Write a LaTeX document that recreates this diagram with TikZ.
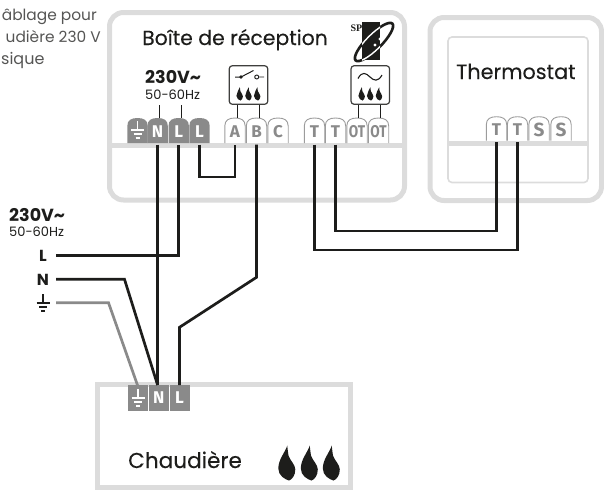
\documentclass[tikz,border=0pt]{standalone}
\usepackage{fontspec}
\setmainfont{Poppins}
\newfontfamily\logofont{Liberation Serif}
\newfontfamily\tabfont{Fira Sans}
\newfontfamily\titlefont[FakeBold=0.25]{Poppins}
\definecolor{boxgray}{HTML}{DCDCDC}
\definecolor{termgray}{HTML}{8A8A8A}
\definecolor{ink}{HTML}{1D1D1B}
\newcommand{\fsz}[1]{\fontsize{#1}{#1}\selectfont}
% terminal: name, centre x, top y, bottom y, fill/draw style, label style, label
\newcommand{\termtab}[7]{%
  \path[#5] (#2-10.2,#4) -- (#2-10.2,#3+8) .. controls (#2-10.2,#3+2) and (#2-6,#3) .. (#2,#3)
     .. controls (#2+6,#3) and (#2+10.2,#3+2) .. (#2+10.2,#3+8) -- (#2+10.2,#4);
  \node[termlabel,#6,minimum height=#4-#3] (#1) at (#2,{(#3+#4)/2+1.5}) {#7};}
\newcommand{\earth}[3]{% centre x, top y, colour
  \draw[#3,line width=1.1] (#1,#2) -- (#1,#2+9)
    (#1-6.5,#2+9) -- (#1+6.5,#2+9)
    (#1-4,#2+13) -- (#1+4,#2+13)
    (#1-2,#2+17) -- (#1+2,#2+17);}
\tikzset{
  x=1pt,y=-1pt,
  outerbox/.style={draw=boxgray,line width=5,rounded corners=14},
  band/.style={draw=boxgray,line width=5},
  wire/.style={draw=ink,line width=2.7,line join=miter},
  earthwire/.style={draw=termgray,line width=2.7,line join=miter},
  thin lead/.style={draw=ink,line width=1},
  symbox/.style={draw=ink!85,line width=1.2,rounded corners=3,minimum width=38.5,minimum height=38.5,inner sep=0},
  tabdark/.style={fill=termgray},
  tablight/.style={draw=termgray!85,line width=0.9},
  termlabel/.style={inner sep=0,minimum width=20.4,font=\tabfont\fsz{17}\bfseries},
  labwhite/.style={text=white},
  labgray/.style={text=termgray},
  title/.style={anchor=base west,inner sep=0,text=ink},
  flame/.pic={\fill[ink] (-1.7,-35) .. controls (-4,-28) and (-10.7,-21) .. (-10.7,-12)
      .. controls (-10.7,-5) and (-4,-1) .. (0,0) .. controls (3,-1) and (6.3,-5) .. (6.3,-11)
      .. controls (6.3,-16) and (1,-20) .. (-0.5,-25) .. controls (-1,-28) and (-1.5,-32) .. cycle;},
}
\begin{document}
\begin{tikzpicture}
\useasboundingbox (0,0) rectangle (604,491);
\clip (0,0) rectangle (604,491);
% boxes
\draw[outerbox] (109.5,12.5) rectangle (404.5,200);
\draw[band] (107,145.5) -- (407,145.5);
\draw[outerbox] (430,17.5) rectangle (601.5,200.5);
\draw[draw=boxgray,line width=1.6,rounded corners=4] (448,37) rectangle (588,182.5);
\draw[band,line width=5] (448,143) -- (588,143);
\draw[draw=boxgray,line width=5] (97,384) rectangle (350.5,487.5);
% side note
\node[anchor=base east,inner sep=0,text=ink!75,font=\fsz{15.4}] (noteA) at (97,20) {âblage pour};
\node[anchor=base east,inner sep=0,text=ink!75,font=\fsz{15.4}] (noteB) at (101,42) {udière 230 V};
\node[anchor=base west,inner sep=0,text=ink!75,font=\fsz{16}] (noteC) at (1,64) {sique};
% titles
\node[title,font=\titlefont\fsz{20.4}] (inbox) at (142,45) {Boîte de réception};
\node[title,font=\titlefont\fsz{20.7}] (thermo) at (456,79) {Thermostat};
\node[title,font=\titlefont\fsz{21.6}] (boiler) at (128,468) {Chaudière};
% logo
\node[anchor=base west,inner sep=0,font=\logofont\bfseries\fsz{10},text=ink] (splogo) at (350.4,31) {SP};
\fill[ink] (362,22) rectangle (380,60);
\draw[ink,line width=2.6,rotate around={45:(374,42)}] (374,42) ellipse (26 and 7.5);
\begin{scope}
  \clip (362,22) rectangle (380,60);
  \draw[white,line width=1.4,rotate around={45:(374,42)}] (374,42) ellipse (26 and 7.5);
\end{scope}
\fill[white] (380,39) circle (1.6) (375,45) circle (1.6);
% voltage labels
\node[anchor=base west,inner sep=0,font=\fsz{17.5}\bfseries,text=ink] (volt) at (145,83.3) {230V\symbol{126}};
\node[anchor=base west,inner sep=0,font=\fsz{13},text=ink] (hz) at (145,99.3) {50-60Hz};
\node[anchor=base west,inner sep=0,font=\fsz{17.5}\bfseries,text=ink] (legvolt) at (9,221) {230V\symbol{126}};
\node[anchor=base west,inner sep=0,font=\fsz{13},text=ink] (leghz) at (9,236.5) {50-60Hz};
\node[anchor=base,inner sep=0,font=\fsz{16}\bfseries,text=ink] (legL) at (43,261) {L};
\node[anchor=base,inner sep=0,font=\fsz{16}\bfseries,text=ink] (legN) at (43,285) {N};
\earth{43}{294}{ink}
% terminals of the receiver
\termtab{tE}{137.5}{118}{143}{tabdark}{labwhite}{}
\earth{137.5}{121}{white}
\termtab{tN}{157.6}{118}{143}{tabdark}{labwhite}{N}
\termtab{tL}{178.7}{118}{143}{tabdark}{labwhite}{L}
\termtab{tLb}{199.5}{118}{143}{tabdark}{labwhite}{L}
\termtab{tA}{235}{118}{143}{tablight}{labgray}{A}
\termtab{tB}{256.5}{118}{143}{tablight}{labgray}{B}
\termtab{tC}{278}{118}{143}{tablight}{labgray}{C}
\termtab{tT}{314.5}{118}{143}{tablight}{labgray}{T}
\termtab{tTb}{335.5}{118}{143}{tablight}{labgray}{T}
\termtab{tO}{357}{118}{143}{tablight}{labgray}{\scalebox{0.8}[1]{OT}}
\termtab{tOb}{378.5}{118}{143}{tablight}{labgray}{\scalebox{0.8}[1]{OT}}
% terminals of the thermostat
\termtab{sT}{496.5}{116.7}{140.5}{tablight}{labgray}{T}
\termtab{sTb}{517.5}{116.7}{140.5}{tablight}{labgray}{T}
\termtab{sS}{539}{116.7}{140.5}{tablight}{labgray,font=\tabfont\fsz{19}\bfseries}{S}
\termtab{sSb}{561}{116.7}{140.5}{tablight}{labgray,font=\tabfont\fsz{19}\bfseries}{S}
% terminals of the boiler
\node[fill=termgray,minimum width=20,minimum height=25.5,inner sep=0] (bE) at (138,398) {};
\earth{138}{389}{white}
\node[fill=termgray,minimum width=20,minimum height=25.5,inner sep=0,text=white,font=\tabfont\fsz{17}\bfseries] (bN) at (158.7,398) {N};
\node[fill=termgray,minimum width=20,minimum height=25.5,inner sep=0,text=white,font=\tabfont\fsz{17}\bfseries] (bL) at (179.5,398) {L};
% symbol boxes
\node[symbox] (swbox) at (248.5,85) {};
\node[symbox] (acbox) at (370.3,85) {};
\draw[ink,line width=1] (235,77) -- (241,77) -- (253.5,70.5);
\fill[ink] (241,77) circle (1.9);
\draw[ink,line width=0.9] (256.7,77) circle (2) (258.7,77) -- (264,77);
\draw[ink,line width=1.1] (358,78.5) .. controls (362,71) and (366,73) .. (370,77) .. controls (374,81) and (378,82) .. (382,75);
\foreach \cx/\nm in {240.5/fa,249.3/fb,258/fc,362.5/fd,371/fe,379.8/ff}
  \pic[scale=0.38] (\nm) at (\cx,100.5) {flame};
\foreach \cx/\nm in {289/bfa,311.5/bfb,333.5/bfc}
  \pic (\nm) at (\cx,480.5) {flame};
% thin leads
\coordinate (vN) at (159.3,105);
\coordinate (vNb) at (159.3,118);
\coordinate (vL) at (181.7,105);
\coordinate (vLb) at (181.7,118);
\draw[thin lead] (vN) -- (vNb) (vL) -- (vLb);
\coordinate (lA) at (237,118);
\coordinate (lB) at (259,118);
\coordinate (lC) at (358.7,118);
\coordinate (lD) at (380.7,118);
\draw[thin lead] (swbox.south -| lA) -- (lA);
\draw[thin lead] (swbox.south -| lB) -- (lB);
\draw[thin lead] (acbox.south -| lC) -- (lC);
\draw[thin lead] (acbox.south -| lD) -- (lD);
% wires
\coordinate (jA) at (235,177);
\coordinate (jT) at (335.5,231);
\coordinate (jTb) at (314.5,250);
\coordinate (wL) at (56,255.7);
\coordinate (wN) at (56,279.3);
\coordinate (wNb) at (124.5,279.3);
\coordinate (wE) at (56,302.7);
\coordinate (wEb) at (108.5,302.7);
\coordinate (wBa) at (256.5,277.3);
\coordinate (wBb) at (179.5,327.3);
\coordinate (wEc) at (137.5,385.2);
\draw[earthwire] (wE) -- (wEb) -- (wEc);
\draw[wire] (wN) -- (wNb) -- (tN.south |- bN.north);
\draw[wire] (tN.south) -- (tN.south |- bN.north);
\draw[wire] (wL) -| (tL.south);
\draw[wire] (tLb.south) |- (jA) -- (tA.south);
\draw[wire] (tB.south) -- (wBa) -- (wBb) -- (bL.north);
\draw[wire] (tTb.south) -- (jT) -| (sT.south);
\draw[wire] (tT.south) -- (jTb) -| (sTb.south);
\end{tikzpicture}
\end{document}
